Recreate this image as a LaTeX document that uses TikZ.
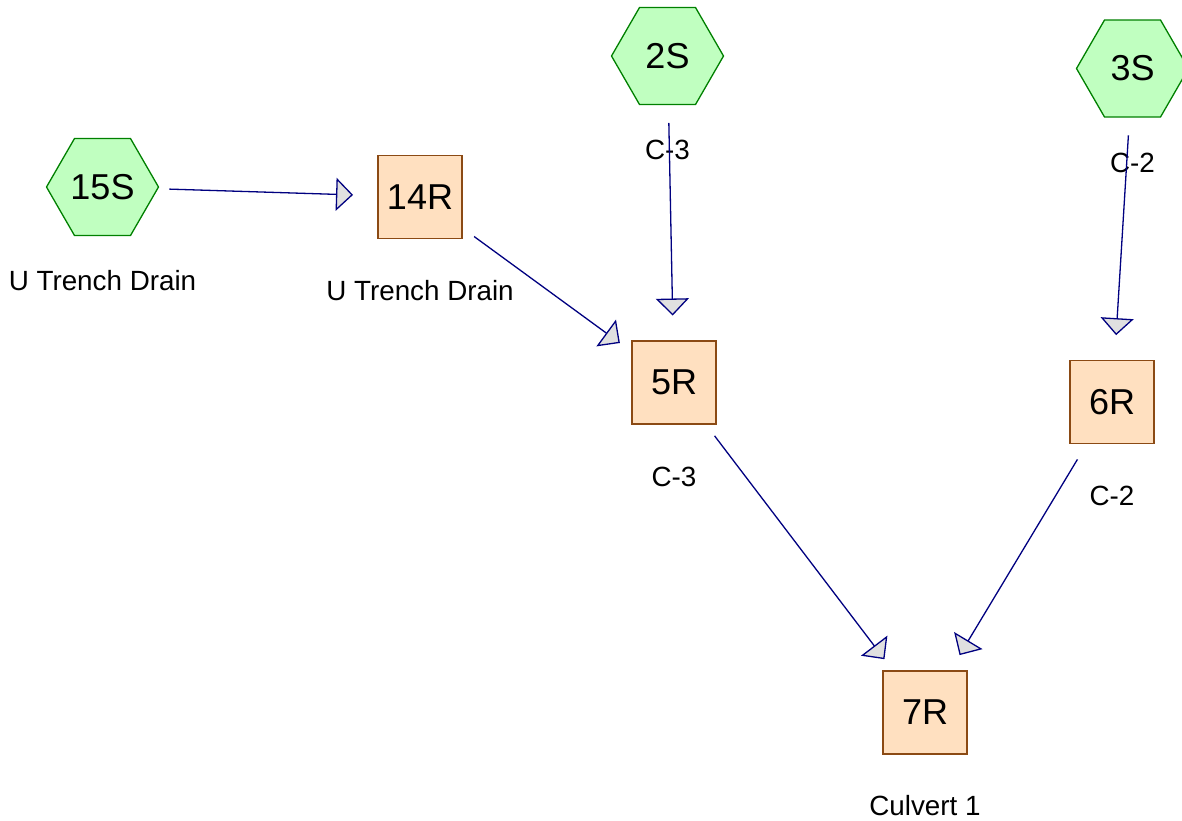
\documentclass[tikz,border=0pt]{standalone}
\usepackage{fontspec}
\setmainfont{Liberation Sans}
\usetikzlibrary{shapes.geometric,arrows.meta}
\definecolor{hexfill}{HTML}{C0FFC0}
\definecolor{hexline}{HTML}{008000}
\definecolor{boxfill}{HTML}{FFE0C0}
\definecolor{boxline}{HTML}{8B4A14}
\definecolor{linkcol}{HTML}{000080}
\definecolor{tipfill}{HTML}{E0E0E0}
\tikzset{
  hexnode/.style={regular polygon, regular polygon sides=6, minimum size=112pt,
    inner sep=0pt, outer sep=0pt, fill=hexfill, draw=hexline, line width=1.3pt,
    font=\fontsize{36}{40}\selectfont},
  boxnode/.style={rectangle, minimum width=84pt, minimum height=83pt, inner sep=0pt,
    outer sep=0pt, fill=boxfill, draw=boxline, line width=1.3pt,
    font=\fontsize{36}{40}\selectfont},
  lbl/.style={inner sep=0pt, font=\fontsize{27.8}{32}\selectfont},
  link/.style={draw=linkcol, line width=1.3pt, shorten <=67pt, shorten >=67pt,
    -{Triangle[length=17pt,width=33pt,fill=tipfill]}}
}
\begin{document}
\begin{tikzpicture}[x=1pt,y=-1pt]
\useasboundingbox (0,0) rectangle (1182,820);
\clip (0,0) rectangle (1182,820);
% nodes
\node[hexnode] (n15S) at (102.5,187) {15S};
\node[hexnode] (n2S) at (667.5,56) {2S};
\node[hexnode] (n3S) at (1132.5,68.5) {3S};
\node[boxnode] (n14R) at (420,197) {14R};
\node[boxnode] (n5R) at (674,382.5) {5R};
\node[boxnode] (n6R) at (1112,402) {6R};
\node[boxnode] (n7R) at (925,712.5) {7R};
% labels
\node[lbl] (l15S) at ([yshift=-94pt]n15S.center) {U Trench Drain};
\node[lbl] (l14R) at ([yshift=-94pt]n14R.center) {U Trench Drain};
\node[lbl] (l2S) at ([yshift=-94pt]n2S.center) {C-3};
\node[lbl] (l5R) at ([yshift=-94pt]n5R.center) {C-3};
\node[lbl] (l3S) at ([yshift=-94pt]n3S.center) {C-2};
\node[lbl] (l6R) at ([yshift=-94pt]n6R.center) {C-2};
\node[lbl] (l7R) at ([yshift=-93pt]n7R.center) {Culvert 1};
% connectors
\draw[link] (n15S.center) -- (n14R.center);
\draw[link] (n2S.center) -- (n5R.center);
\draw[link] (n3S.center) -- (n6R.center);
\draw[link] (n14R.center) -- (n5R.center);
\draw[link] (n5R.center) -- (n7R.center);
\draw[link] (n6R.center) -- (n7R.center);
\end{tikzpicture}
\end{document}
